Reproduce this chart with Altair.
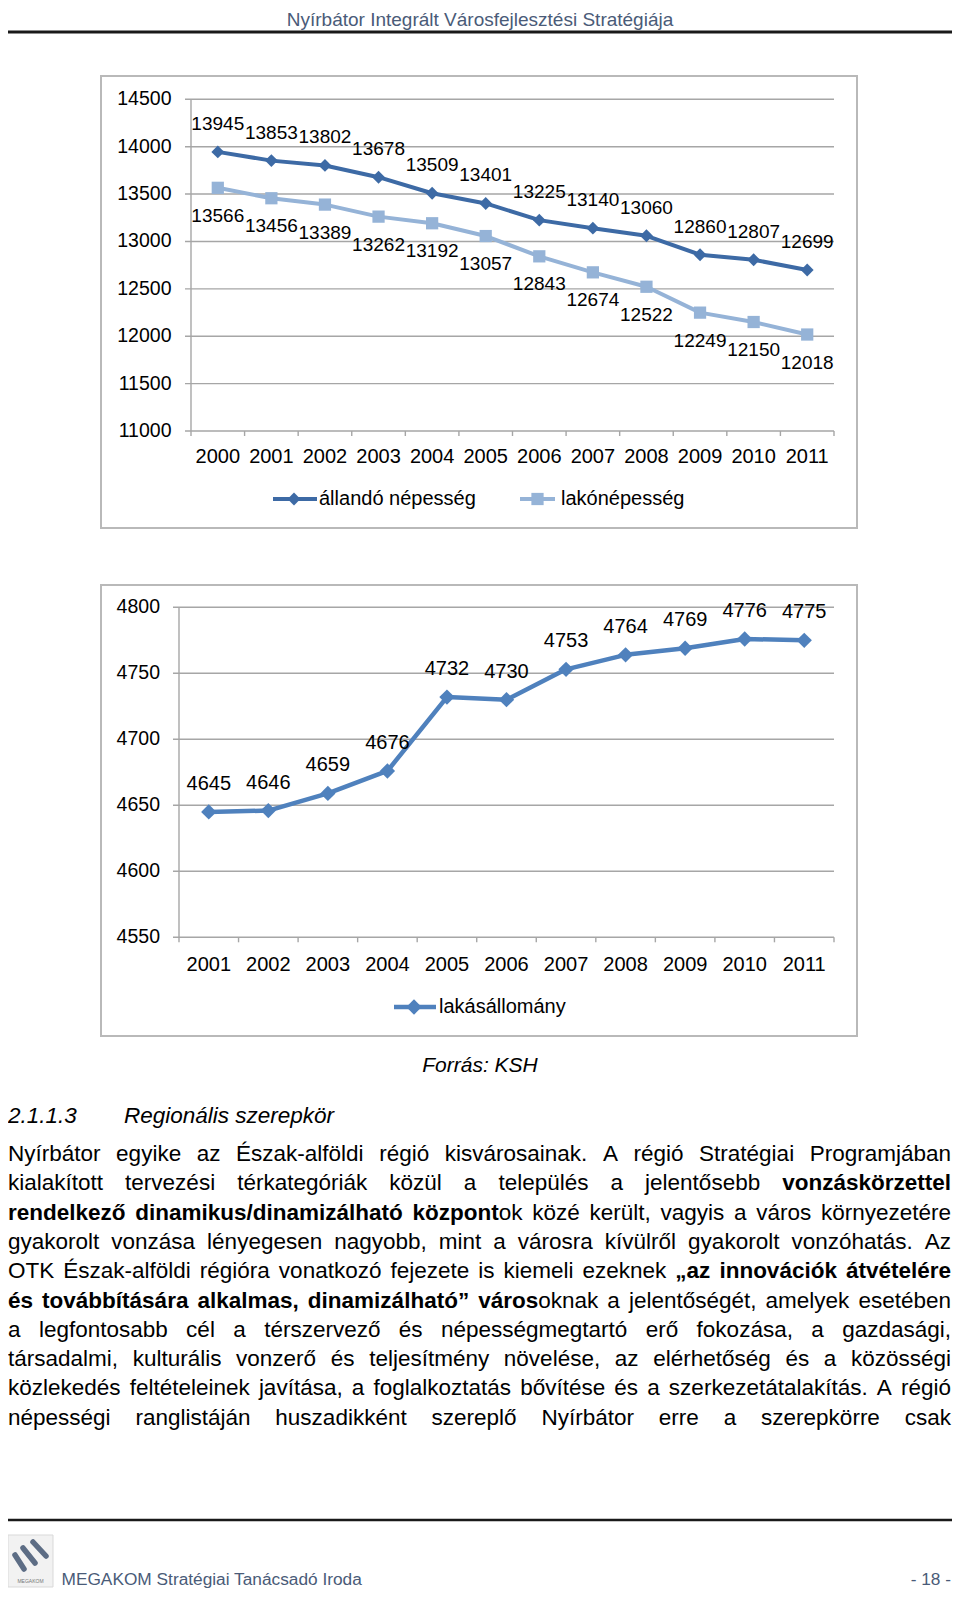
import altair as alt
import pandas as pd

# ------------------------------------------------------------------ data
years_pop = [2000, 2001, 2002, 2003, 2004, 2005, 2006, 2007, 2008, 2009, 2010, 2011]
allando_nepesseg = [13945, 13853, 13802, 13678, 13509, 13401, 13225, 13140, 13060, 12860, 12807, 12699]
lakonepesseg = [13566, 13456, 13389, 13262, 13192, 13057, 12843, 12674, 12522, 12249, 12150, 12018]
pop_series = ["állandó népesség", "lakónépesség"]
pop_ticks = [11000, 11500, 12000, 12500, 13000, 13500, 14000, 14500]

years_flat = [2001, 2002, 2003, 2004, 2005, 2006, 2007, 2008, 2009, 2010, 2011]
lakasallomany = [4645, 4646, 4659, 4676, 4732, 4730, 4753, 4764, 4769, 4776, 4775]
flat_series = ["lakásállomány"]
flat_ticks = [4550, 4600, 4650, 4700, 4750, 4800]

header_text = "Nyírbátor Integrált Városfejlesztési Stratégiája"
source_text = "Forrás: KSH"
section_no = "2.1.1.3"
section_title = "Regionális szerepkör"
footer_text = "MEGAKOM Stratégiai Tanácsadó Iroda"
page_no = "- 18 -"
logo_text = "MEGAKOM"

body_lines = [
    [("Nyírbátor egyike az Észak-alföldi régió kisvárosainak. A régió Stratégiai Programjában", False)],
    [("kialakított tervezési térkategóriák közül a település a jelentősebb ", False), ("vonzáskörzettel", True)],
    [("rendelkező dinamikus/dinamizálható központ", True), ("ok közé került, vagyis a város környezetére", False)],
    [("gyakorolt vonzása lényegesen nagyobb, mint a városra kívülről gyakorolt vonzóhatás. Az", False)],
    [("OTK Észak-alföldi régióra vonatkozó fejezete is kiemeli ezeknek ", False), ("„az innovációk átvételére", True)],
    [("és továbbítására alkalmas, dinamizálható” város", True), ("oknak a jelentőségét, amelyek esetében", False)],
    [("a legfontosabb cél a térszervező és népességmegtartó erő fokozása, a gazdasági,", False)],
    [("társadalmi, kulturális vonzerő és teljesítmény növelése, az elérhetőség és a közösségi", False)],
    [("közlekedés feltételeinek javítása, a foglalkoztatás bővítése és a szerkezetátalakítás. A régió", False)],
    [("népességi ranglistáján huszadikként szereplő Nyírbátor erre a szerepkörre csak", False)],
]

# ------------------------------------------------------------------ style
FONT = "Liberation Sans"
GRID = "#a6a6a6"
FRAME = "#b9b9b9"
BLACK = "#000000"
SLATE = "#4a5b78"
C_ALLANDO = "#3d6aa5"
C_LAKO = "#95b3d7"
C_LAKAS = "#4f81bd"

W, H = 944, 1581


def one():
    return alt.Chart(pd.DataFrame({"k": [0]}))


def rule(x1, y1, x2, y2, color, w, cap="butt"):
    return one().mark_rule(color=color, strokeWidth=w, strokeCap=cap).encode(
        x=alt.value(x1), y=alt.value(y1), x2=alt.value(x2), y2=alt.value(y2))


def txt(s, x, y, size, font=FONT, **kw):
    return one().mark_text(text=s, font=font, fontSize=size, **kw).encode(
        x=alt.value(x), y=alt.value(y))


def box(x1, y1, x2, y2, stroke, w, fill="transparent"):
    return one().mark_rect(fill=fill, stroke=stroke, strokeWidth=w).encode(
        x=alt.value(x1), y=alt.value(y1), x2=alt.value(x2), y2=alt.value(y2))


def lin(domain, rng):
    return alt.Scale(domain=domain, range=rng, nice=False, zero=False)


def panel(years, series, ticks, xs, ys, gx0, gx1, ylab_x, xlab_y, axis_y,
          fs_axis, fs_x, fs_lab):
    layers = []
    tdf = pd.DataFrame({"v": ticks})
    layers.append(alt.Chart(tdf).mark_rule(color=GRID, strokeWidth=1.4).encode(
        y=alt.Y("v:Q", scale=ys, axis=None), x=alt.value(gx0), x2=alt.value(gx1)))
    adf = pd.DataFrame({"b": [years[0] - 0.5], "lo": [ticks[0]], "hi": [ticks[-1]]})
    layers.append(alt.Chart(adf).mark_rule(color=GRID, strokeWidth=1.4).encode(
        x=alt.X("b:Q", scale=xs, axis=None),
        y=alt.Y("lo:Q", scale=ys, axis=None), y2="hi:Q"))
    bdf = pd.DataFrame({"b": [yr - 0.5 for yr in years] + [years[-1] + 0.5]})
    layers.append(alt.Chart(bdf).mark_rule(color=GRID, strokeWidth=1.4).encode(
        x=alt.X("b:Q", scale=xs, axis=None),
        y=alt.value(axis_y), y2=alt.value(axis_y + 5)))
    for s in series:
        df = pd.DataFrame({"year": years, "value": s["values"]})
        enc = dict(x=alt.X("year:Q", scale=xs, axis=None),
                   y=alt.Y("value:Q", scale=ys, axis=None))
        layers.append(alt.Chart(df).mark_line(
            color=s["color"], strokeWidth=s["lw"], strokeJoin="round").encode(**enc))
        layers.append(alt.Chart(df).mark_point(
            shape=s["shape"], filled=True, size=s["size"], color=s["color"],
            opacity=1, strokeWidth=0).encode(**enc))
        layers.append(alt.Chart(df).mark_text(
            dy=s["dy"], baseline="middle", font=FONT, fontSize=fs_lab, color=BLACK).encode(
            text=alt.Text("value:Q", format="d"), **enc))
    layers.append(alt.Chart(tdf).mark_text(
        align="right", baseline="middle", font=FONT, fontSize=fs_axis, color=BLACK).encode(
        x=alt.value(ylab_x), y=alt.Y("v:Q", scale=ys, axis=None),
        text=alt.Text("v:Q", format="d")))
    layers.append(alt.Chart(pd.DataFrame({"year": years})).mark_text(
        baseline="middle", font=FONT, fontSize=fs_x, color=BLACK).encode(
        x=alt.X("year:Q", scale=xs, axis=None), y=alt.value(xlab_y),
        text=alt.Text("year:Q", format="d")))
    return layers


def legend_item(name, lx0, lx1, sx, y, color, shape, size, lw, tx, fs):
    return [
        rule(lx0, y, lx1, y, color, lw),
        one().mark_point(shape=shape, filled=True, size=size, color=color,
                         opacity=1, strokeWidth=0).encode(x=alt.value(sx), y=alt.value(y)),
        txt(name, tx, y, fs, align="left", baseline="middle", color=BLACK),
    ]


# ------------------------------------------------------------------ chart 1
X1 = lin([years_pop[0] - 0.5, years_pop[-1] + 0.5], [183, 826])
Y1 = lin([pop_ticks[0], pop_ticks[-1]], [423, 91.3])
chart1 = [box(93, 68, 849, 520, FRAME, 2)]
chart1 += panel(
    years_pop,
    [dict(values=allando_nepesseg, color=C_ALLANDO, shape="diamond", size=165, lw=4, dy=-28),
     dict(values=lakonepesseg, color=C_LAKO, shape="square", size=150, lw=4, dy=28)],
    pop_ticks, X1, Y1, 177, 826, 163.5, 448.5, 423, 19.5, 20, 19)
chart1 += legend_item(pop_series[0], 265, 309, 286, 491, C_ALLANDO, "diamond", 165, 4, 311, 20)
chart1 += legend_item(pop_series[1], 512, 547, 529.5, 491, C_LAKO, "square", 150, 4, 553, 20)

# ------------------------------------------------------------------ chart 2
X2 = lin([years_flat[0] - 0.5, years_flat[-1] + 0.5], [171, 826])
Y2 = lin([flat_ticks[0], flat_ticks[-1]], [929.3, 599.3])
chart2 = [box(93, 577, 849, 1028, FRAME, 2)]
chart2 += panel(
    years_flat,
    [dict(values=lakasallomany, color=C_LAKAS, shape="diamond", size=235, lw=4.5, dy=-28)],
    flat_ticks, X2, Y2, 165, 826, 152, 956.5, 929.3, 19.5, 20, 20)
chart2 += legend_item(flat_series[0], 386, 428, 406, 999, C_LAKAS, "diamond", 235, 4.5, 431, 20)

# ------------------------------------------------------------------ body text (justified)
REG = {}
for chars, w in [("ijl", 222), ("ftI .,:/í", 278), ("r-„”", 333), ("cksvxyzJ", 500),
                 ("abdeghnopquáéóöőúüű0123456789L", 556), ("FTZ", 611),
                 ("ABEKPSVXYÉ", 667), ("CDHNRUw", 722), ("GOQÖ", 778), ("mM", 833), ("W", 944)]:
    for ch in chars:
        REG[ch] = w
BOLD = {}
for chars, w in [("ijl .,:/í", 278), ("ft", 333), ("r", 389), ("z„”", 500),
                 ("acekvsxyáé", 556), ("bdghnopquóöőúüű", 611), ("m", 889)]:
    for ch in chars:
        BOLD[ch] = w

BODY_FS = 22.5
LEFT, RIGHT = 0, 943
TOP, STEP = 1153, 29.3


def width(s, bold):
    table = BOLD if bold else REG
    return sum(table.get(ch, 722 if bold else 667) for ch in s) * BODY_FS / 1000.0


rows = []
for i, line in enumerate(body_lines):
    chars = [(ch, b) for s, b in line for ch in s]
    words, cur = [], []
    for ch, b in chars:
        if ch == " ":
            if cur:
                words.append(cur)
                cur = []
        else:
            cur.append((ch, b))
    if cur:
        words.append(cur)
    runs_per_word = []
    for wd in words:
        runs = []
        for ch, b in wd:
            if runs and runs[-1][1] == b:
                runs[-1][0] += ch
            else:
                runs.append([ch, b])
        runs_per_word.append(runs)
    wsum = [sum(width(t, b) for t, b in r) for r in runs_per_word]
    gap = (RIGHT - LEFT - sum(wsum)) / (len(wsum) - 1)
    x = LEFT
    y = TOP + i * STEP
    for r, wv in zip(runs_per_word, wsum):
        xx = x
        for t, b in r:
            rows.append({"x": xx, "y": y, "t": t, "bold": b})
            xx += width(t, b)
        x += wv + gap

body_df = pd.DataFrame(rows)
body = []
for b, wgt in [(False, "normal"), (True, "bold")]:
    body.append(alt.Chart(body_df[body_df["bold"] == b]).mark_text(
        font=FONT, fontSize=BODY_FS, fontWeight=wgt, align="left", baseline="alphabetic",
        color=BLACK).encode(
        x=alt.X("x:Q", scale=None, axis=None), y=alt.Y("y:Q", scale=None, axis=None),
        text="t:N"))

# ------------------------------------------------------------------ page decorations
page = [
    txt(header_text, 472, 18, 19, align="center", baseline="alphabetic", color=SLATE),
    rule(0, 24, W, 24, "#1a1a1a", 3),
    txt(source_text, 472, 1064, 21, fontStyle="italic", align="center",
        baseline="alphabetic", color=BLACK),
    txt(section_no, 0, 1115, BODY_FS, fontStyle="italic", align="left",
        baseline="alphabetic", color=BLACK),
    txt(section_title, 116, 1115, BODY_FS, fontStyle="italic", align="left",
        baseline="alphabetic", color=BLACK),
    rule(0, 1512, W, 1512, "#1a1a1a", 2.5),
    box(0, 1527, 45, 1579, "#d9d9d9", 1, fill="#f2f2f2"),
    rule(7, 1547, 16, 1561, "#5d6d85", 5.5, cap="round"),
    rule(15, 1540, 27, 1555, "#5d6d85", 5.5, cap="round"),
    rule(25, 1534, 38, 1548, "#5d6d85", 5.5, cap="round"),
    txt(logo_text, 22.5, 1573, 5, align="center", baseline="middle", color="#777777"),
    txt(footer_text, 53.5, 1577, 17.3, align="left",
        baseline="alphabetic", color=SLATE),
    txt(page_no, 943, 1577, 17.3, align="right",
        baseline="alphabetic", color=SLATE),
]

chart = alt.layer(*(chart1 + chart2 + body + page)).resolve_scale(
    x="independent", y="independent"
).properties(
    width=W, height=H, autosize=alt.AutoSizeParams(type="none"), padding=0,
    background="white",
).configure_view(stroke=None)

chart.save("out.html", embed_options={"renderer": "svg", "actions": False})
